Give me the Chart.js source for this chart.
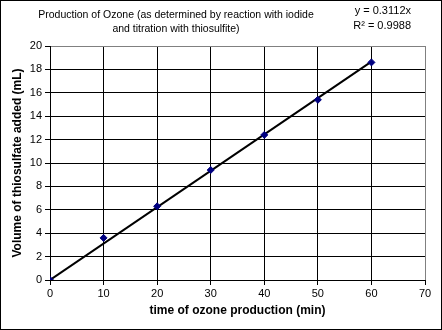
<!DOCTYPE html>
<html>
<head>
<meta charset="utf-8">
<script src="https://cdn.jsdelivr.net/npm/chart.js@4.4.0/dist/chart.umd.min.js"></script>
<style>
  html, body { margin: 0; padding: 0; background: #fff; }
  #wrap { width: 442px; height: 330px; position: relative; }
</style>
</head>
<body>
<div id="wrap"><canvas id="ozoneChart" width="442" height="330"></canvas></div>
<script>
// measured data
const timeMin = [0, 10, 20, 30, 40, 50, 60];
const volumeML = [0, 3.6, 6.3, 9.4, 12.4, 15.4, 18.6];
// trendline y = 0.3112x, end points
const trendX = [0, 60];
const trendY = [0, 18.67];
const titleLines = ['Production of Ozone (as determined by reaction with iodide', 'and titration with thiosulfite)'];
const eqLines = ['y = 0.3112x', 'R\u00b2 = 0.9988'];

const pts = timeMin.map((t, i) => ({x: t, y: volumeML[i]}));
const trend = trendX.map((t, i) => ({x: t, y: trendY[i]}));

const tickFont = {family: 'Liberation Sans', size: 11};
const boldFont = {family: 'Liberation Sans', size: 12, weight: 'bold'};

const frame = {
  id: 'frame',
  afterDraw(chart) {
    const c = chart.ctx;
    c.save();
    c.strokeStyle = '#000';
    c.lineWidth = 1;
    c.strokeRect(0.5, 0.5, 441, 329);
    c.fillStyle = '#000';
    c.font = '10.5px "Liberation Sans"';
    c.textAlign = 'center';
    c.textBaseline = 'middle';
    c.fillText(titleLines[0], 176, 15);
    c.fillText(titleLines[1], 176, 29);
    c.font = '11px "Liberation Sans"';
    c.textAlign = 'right';
    c.fillText(eqLines[0], 411, 11);
    c.fillText(eqLines[1], 411, 26);
    c.restore();
  }
};

new Chart(document.getElementById('ozoneChart'), {
  type: 'scatter',
  data: {
    datasets: [
      {
        label: 'Trend',
        data: trend,
        showLine: true,
        borderColor: '#000',
        borderWidth: 2,
        pointRadius: 0,
        order: 2
      },
      {
        label: 'Volume',
        data: pts,
        pointStyle: 'rectRot',
        pointRadius: 3.5,
        backgroundColor: '#000080',
        borderColor: '#000080',
        order: 1
      }
    ]
  },
  options: {
    responsive: false,
    animation: false,
    layout: {padding: {top: 46, right: 17, left: 10, bottom: 12}},
    plugins: {legend: {display: false}, tooltip: {enabled: false}},
    scales: {
      x: {
        type: 'linear',
        min: 0, max: 70,
        ticks: {stepSize: 10, color: '#000', font: tickFont, padding: 2, maxRotation: 0},
        grid: {
          color: ctx => ctx.tick && ctx.tick.value === 70 ? '#808080' : '#000',
          tickColor: '#000', tickLength: 5
        },
        border: {color: '#000'},
        title: {display: true, text: 'time of ozone production (min)', color: '#000', font: boldFont, padding: {top: 2, bottom: 0}},
        afterFit(s) { s.height = 38; }
      },
      y: {
        min: 0, max: 20,
        ticks: {stepSize: 2, color: '#000', font: tickFont, padding: 3},
        grid: {
          color: ctx => ctx.tick && ctx.tick.value === 20 ? '#808080' : '#000',
          tickColor: '#000', tickLength: 5
        },
        border: {color: '#000'},
        title: {display: true, text: 'Volume of thiosulfate added (mL)', color: '#000', font: boldFont, padding: {top: 0, bottom: 2}},
        afterFit(s) { s.width = 40; }
      }
    }
  },
  plugins: [frame]
});
</script>
</body>
</html>
